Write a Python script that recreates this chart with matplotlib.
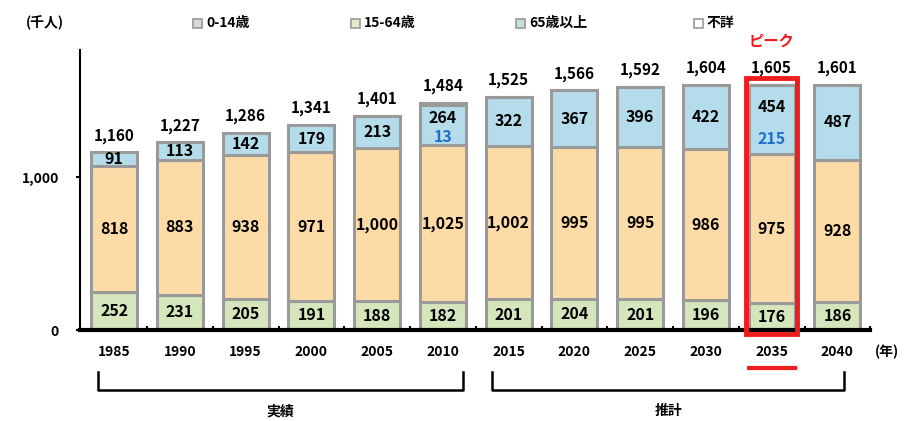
import numpy as np
import matplotlib.pyplot as plt
from matplotlib.patches import Rectangle

plt.rcParams['font.family'] = ['Noto Sans CJK JP', 'DejaVu Sans']
plt.rcParams['font.weight'] = 'bold'

# Data (千人)
years = ['1985', '1990', '1995', '2000', '2005', '2010',
         '2015', '2020', '2025', '2030', '2035', '2040']
age_0_14 = [252, 231, 205, 191, 188, 182, 201, 204, 201, 196, 176, 186]
age_15_64 = [818, 883, 938, 971, 1000, 1025, 1002, 995, 995, 986, 975, 928]
age_65 = [91, 113, 142, 179, 213, 264, 322, 367, 396, 422, 454, 487]
unknown = [0, 0, 0, 0, 0, 13, 0, 0, 0, 0, 0, 0]
totals = [1160, 1227, 1286, 1341, 1401, 1484, 1525, 1566, 1592, 1604, 1605, 1601]
blue_notes = {5: '13', 10: '215'}
peak_idx = 10

legend_labels = ['0-14歳', '15-64歳', '65歳以上', '不詳']
legend_colors = ['#d9d9d9', '#e6ecc9', '#c7dedf', 'white']

c_young = '#d5e6bd'
c_work = '#fddba6'
c_old = '#b5dcea'
c_edge = '#9a9a9a'
red = '#ee1c1c'

fig = plt.figure(figsize=(9.19, 4.21), dpi=100)
ax = fig.add_axes([0.087, 0.216, 0.86, 0.665])

x = np.arange(len(years))
w = 0.7
b1 = np.array(age_0_14)
b2 = b1 + np.array(age_15_64)
b3 = b2 + np.array(age_65)

kw = dict(width=w, edgecolor=c_edge, linewidth=2.2)
ax.bar(x, age_0_14, color=c_young, **kw)
ax.bar(x, age_15_64, bottom=b1, color=c_work, **kw)
ax.bar(x, age_65, bottom=b2, color=c_old, **kw)
ax.bar(x, unknown, bottom=b3, color='white', **kw)

fs = 10
fin = 11.5
for i in x:
    ax.text(i, age_0_14[i] / 2, f'{age_0_14[i]:,}', ha='center', va='center', fontsize=fin)
    ax.text(i, b1[i] + age_15_64[i] / 2, f'{age_15_64[i]:,}', ha='center', va='center', fontsize=fin)
    if i in blue_notes:
        ax.text(i, b2[i] + age_65[i] * 0.68, f'{age_65[i]:,}', ha='center', va='center', fontsize=fin)
        ax.text(i, b2[i] + age_65[i] * 0.22, blue_notes[i], ha='center', va='center',
                fontsize=fin, color='#1f6fc8')
    else:
        ax.text(i, b2[i] + age_65[i] / 2, f'{age_65[i]:,}', ha='center', va='center', fontsize=fin)
    ax.text(i, totals[i] + 110, f'{totals[i]:,}', ha='center', va='center', fontsize=fs + 1)

# peak highlight
ax.add_patch(Rectangle((peak_idx - 0.39, -25), 0.78, 1675,
                       fill=False, edgecolor=red, linewidth=3.5, clip_on=False, zorder=5))
ax.text(peak_idx, totals[peak_idx] + 285, 'ピーク', ha='center', va='center',
        color=red, fontsize=fs + 1)

ax.set_xlim(-0.52, 11.3)
ax.set_ylim(0, 1830)
ax.set_yticks([0, 1000])
ax.set_yticklabels(['0', '1,000'], fontsize=fs)
ax.tick_params(axis='y', length=3, width=1.5, pad=12)
ax.set_xticks(x + 0.5)
ax.set_xticklabels([])
ax.tick_params(axis='x', direction='in', length=3, width=1.5)
for sp in ['top', 'right']:
    ax.spines[sp].set_visible(False)
ax.spines['left'].set_linewidth(1.5)
ax.spines['bottom'].set_linewidth(3)

tr = ax.get_xaxis_transform()
for i in x:
    ax.text(i, -0.08, years[i], transform=tr, ha='center', va='center', fontsize=fs)
ax.text(11.75, -0.08, '(年)', transform=tr, ha='center', va='center', fontsize=fs)
ax.plot([peak_idx - 0.35, peak_idx + 0.35], [-0.135, -0.135], transform=tr,
        color=red, linewidth=3, clip_on=False)

# brackets
for x0, x1, lab in [(-0.25, 5.3, '実績'), (5.75, 11.1, '推計')]:
    ax.plot([x0, x0, x1, x1], [-0.15, -0.215, -0.215, -0.15], transform=tr,
            color='black', linewidth=1.8, clip_on=False)
    ax.text((x0 + x1) / 2, -0.29, lab, transform=tr, ha='center', va='center', fontsize=fs)

fig.text(0.028, 0.945, '(千人)', ha='left', va='center', fontsize=fs)

# legend, laid out by hand
leg_x = [193, 351, 516, 694]
for px, lab, col in zip(leg_x, legend_labels, legend_colors):
    fig.patches.append(Rectangle((px / 919, 0.945 - 4.5 / 421), 9 / 919, 9 / 421,
                                 transform=fig.transFigure, facecolor=col,
                                 edgecolor=c_edge, linewidth=1.2))
    fig.text((px + 13) / 919, 0.945, lab, ha='left', va='center', fontsize=fs)

fig.savefig('out.png', dpi=100)
